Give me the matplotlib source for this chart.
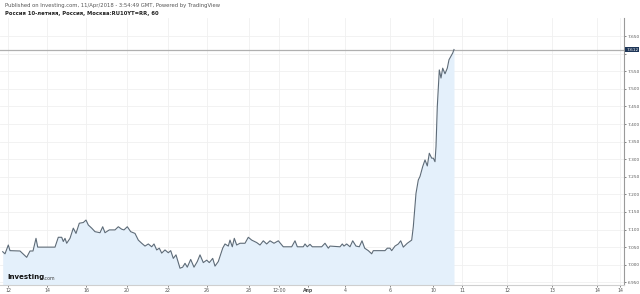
import matplotlib
matplotlib.use("Agg")
import matplotlib.pyplot as plt
import numpy as np

# time position (bar index scale) and yield values
t = [2.7, 5, 8.3, 10, 20, 23, 26.7, 30, 33, 36, 37.7, 55, 58.3, 61.7, 63.3, 65, 66.7, 70,
     73.3, 76, 79.3, 83.3, 86, 88.3, 91.7, 95, 100, 102.7, 105, 109.3, 115, 118.3, 121.7,
     124, 127.3, 130.7, 135, 138.3, 141.7, 145, 148.3, 151.7, 154, 156.7, 159.3, 161.7,
     165, 168.3, 170.7, 173.3, 176, 180, 182.7, 185, 187.3, 190.7, 194, 197.3, 200, 203.3,
     206.7, 209.3, 212.7, 215, 218.3, 222.7, 225, 228.3, 230, 232.3, 234.3, 236.7, 240,
     245, 248.3, 251.7, 256.7, 260, 263.3, 266.7, 270, 274, 278.3, 283.3, 291.7, 295,
     297.3, 303.3, 305, 307.3, 310, 312.3, 321.7, 325, 328.3,
     330, 340, 342.3, 344, 346.7, 350, 352.7, 356, 359.3, 362, 364.7, 368.3, 371.7, 373.3,
     385, 387.3, 390, 391.7, 395, 398.3, 400.7, 403.3, 407.3, 411.7, 413.3, 416, 418.3,
     420, 422.7, 425, 427.3, 429.3, 431.7, 433.3, 435, 436, 437.3, 439.3, 441, 442.7, 445,
     447.3, 449, 450.7, 452.7, 454]
yld = [7.037, 7.031, 7.056, 7.040, 7.039, 7.031, 7.021, 7.039, 7.039, 7.075, 7.050, 7.050,
       7.078, 7.078, 7.066, 7.075, 7.061, 7.075, 7.104, 7.089, 7.118, 7.120, 7.127, 7.113,
       7.104, 7.094, 7.091, 7.108, 7.091, 7.099, 7.099, 7.108, 7.101, 7.099, 7.108, 7.094,
       7.089, 7.070, 7.061, 7.053, 7.059, 7.051, 7.059, 7.042, 7.047, 7.033, 7.042, 7.034,
       7.040, 7.018, 7.028, 6.990, 6.993, 7.004, 6.993, 7.015, 6.993, 7.009, 7.028, 7.006,
       7.013, 7.006, 7.018, 6.996, 7.009, 7.047, 7.059, 7.053, 7.070, 7.051, 7.075, 7.056,
       7.061, 7.061, 7.078, 7.070, 7.063, 7.056, 7.068, 7.059, 7.068, 7.061, 7.068, 7.051,
       7.051, 7.068, 7.051, 7.051, 7.059, 7.051, 7.058, 7.051, 7.051, 7.061, 7.047,
       7.053, 7.051, 7.059, 7.053, 7.059, 7.051, 7.068, 7.053, 7.051, 7.068, 7.047, 7.040,
       7.031, 7.040, 7.040, 7.047, 7.047, 7.040, 7.053, 7.059, 7.068, 7.050, 7.061, 7.070,
       7.108, 7.203, 7.241, 7.251, 7.279, 7.298, 7.281, 7.317, 7.303, 7.303, 7.293, 7.336,
       7.450, 7.554, 7.531, 7.559, 7.543, 7.559, 7.583, 7.592, 7.602, 7.612]

last_price = 7.612

x_tick_pos = [8, 47, 86, 127, 168, 207, 249, 279, 308, 345, 390, 433, 462, 507, 552, 597, 620]
x_tick_labels = ["12", "14", "16", "20", "22", "26", "28", "12:00", "Апр", "4", "6", "10",
                 "11", "12", "13", "14", "14"]
y_ticks = [6.95, 7.00, 7.05, 7.10, 7.15, 7.20, 7.25, 7.30, 7.35, 7.40, 7.45, 7.50, 7.55,
           7.60, 7.65]

W, H = 640, 294
fig = plt.figure(figsize=(W / 100, H / 100), dpi=100)
fig.patch.set_facecolor("white")
ax = fig.add_axes([0.0, 9 / H, 624 / W, 267 / H])
ax.set_facecolor("white")

ax.set_xlim(0, 624)
ax.set_ylim(6.9423, 7.7017)

# grid
for xp in x_tick_pos:
    ax.axvline(xp, color="#f0f0f0", lw=0.6, zorder=0)
for yv in y_ticks:
    ax.axhline(yv, color="#f0f0f0", lw=0.6, zorder=0)

ax.fill_between(t, yld, 6.9, color="#e4f0fb", lw=0, zorder=1)
ax.plot(t, yld, color="#5d6b78", lw=0.8, zorder=3)
ax.axhline(last_price, color="#b0b0b0", lw=0.9, zorder=2)

for s in ["top", "left"]:
    ax.spines[s].set_visible(False)
ax.spines["right"].set_color("#9a9a9a")
ax.spines["bottom"].set_color("#cfcfcf")
ax.spines["right"].set_linewidth(0.8)
ax.spines["bottom"].set_linewidth(0.8)

ax.yaxis.tick_right()
ax.set_yticks(y_ticks)
ax.set_yticklabels([f"{v:.3f}" for v in y_ticks])
ax.tick_params(axis="y", labelsize=3.1, colors="#555555", length=1.5, width=0.5, pad=1)
ax.set_xticks(x_tick_pos)
ax.set_xticklabels(x_tick_labels)
ax.tick_params(axis="x", labelsize=3.4, colors="#555555", length=1.5, width=0.5, pad=1)
for lbl in ax.get_xticklabels():
    if lbl.get_text() == "Апр":
        lbl.set_fontweight("bold")
# hide 7.600 label under the price tag
for lbl in ax.get_yticklabels():
    if lbl.get_text() == "7.600":
        lbl.set_visible(False)

ax.text(1.0035, last_price, f"{last_price:.3f}", transform=ax.get_yaxis_transform(),
        fontsize=3.1, color="white", va="center", ha="left",
        bbox=dict(boxstyle="square,pad=0.2", fc="#1d3557", ec="none"))

fig.text(5 / W, 1 - 6 / H, "Published on Investing.com, 11/Apr/2018 - 3:54:49 GMT, Powered by TradingView",
         fontsize=3.8, color="#555555", va="center", ha="left")
fig.text(5 / W, 1 - 14 / H, "Россия 10-летняя, Россия, Москва:RU10YT=RR, 60",
         fontsize=3.8, color="#222222", fontweight="bold", va="center", ha="left")

fig.text(7 / W, 1 - 277 / H, "Investing", fontsize=5, fontweight="bold", color="#111111",
         va="center", ha="left")
fig.text(43 / W, 1 - 278 / H, ".com", fontsize=3.4, color="#444444", va="center", ha="left")

fig.savefig("out.png", dpi=100, facecolor="white")
